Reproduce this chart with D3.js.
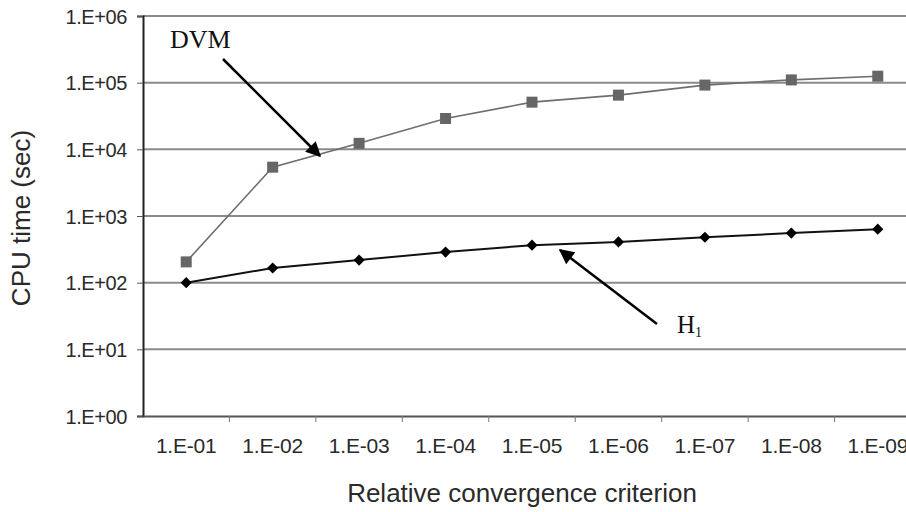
<!DOCTYPE html>
<html>
<head>
<meta charset="utf-8">
<script src="https://cdn.jsdelivr.net/npm/d3@7"></script>
<style>
  body { margin: 0; background: #fff; }
  svg { display: block; }
</style>
</head>
<body>
<svg></svg>
<script>
var width = 906;
var height = 512;

// data
var criteria = ["1.E-01", "1.E-02", "1.E-03", "1.E-04", "1.E-05", "1.E-06", "1.E-07", "1.E-08", "1.E-09"];
var dvmTimes = [205, 5400, 12300, 29000, 51000, 65000, 92000, 110000, 125000];
var h1Times = [100, 166, 218, 288, 365, 408, 480, 555, 635];
var yTicks = [1, 10, 100, 1000, 10000, 100000, 1000000];
var yTickLabels = ["1.E+00", "1.E+01", "1.E+02", "1.E+03", "1.E+04", "1.E+05", "1.E+06"];

const sans = "Liberation Sans, Arial, sans-serif";
const serif = "Liberation Serif, Times New Roman, serif";

const svg = d3.select('svg')
    .attr('width', width)
    .attr('height', height);

const x = d3.scaleBand()
    .domain(criteria)
    .range([143, 921]);

const y = d3.scaleLog()
    .domain([1, 1000000])
    .range([416, 16]);

// gridlines
svg.append("g")
    .selectAll("line")
    .data(yTicks.slice(1))
    .join("line")
    .attr("x1", 143)
    .attr("x2", width)
    .attr("y1", d => y(d))
    .attr("y2", d => y(d))
    .attr("stroke", "#8a8a8a")
    .attr("stroke-width", 2);

// y axis
const yAxis = svg.append("g")
    .attr("transform", "translate(143,0)")
    .call(d3.axisLeft(y)
        .tickValues(yTicks)
        .tickFormat((d, i) => yTickLabels[i])
        .tickSize(6)
        .tickPadding(10));
yAxis.select(".domain").attr("stroke", "#222").attr("stroke-width", 2);
yAxis.selectAll(".tick line").attr("stroke", "#555");
yAxis.selectAll("text")
    .attr("font-family", sans)
    .attr("font-size", 20)
    .attr("letter-spacing", -0.4)
    .attr("dy", "0.36em")
    .attr("fill", "#2a2a2a");

// x axis
const xAxis = svg.append("g")
    .attr("transform", "translate(0,416)")
    .call(d3.axisBottom(x).tickSize(0).tickPadding(22));
xAxis.select(".domain").attr("stroke", "#555").attr("stroke-width", 2);
xAxis.selectAll("text")
    .attr("font-family", sans)
    .attr("font-size", 21)
    .attr("letter-spacing", -0.2)
    .attr("fill", "#2a2a2a");
// tick marks between categories
xAxis.selectAll(".sep")
    .data(criteria.slice(1))
    .join("line")
    .attr("class", "sep")
    .attr("x1", d => x(d))
    .attr("x2", d => x(d))
    .attr("y1", 0)
    .attr("y2", 6)
    .attr("stroke", "#777");

// axis titles
svg.append("text")
    .attr("transform", "translate(30,218) rotate(-90)")
    .attr("text-anchor", "middle")
    .attr("font-family", sans)
    .attr("font-size", 26)
    .attr("fill", "#2a2a2a")
    .text("CPU time (sec)");

svg.append("text")
    .attr("x", 522)
    .attr("y", 502)
    .attr("text-anchor", "middle")
    .attr("font-family", sans)
    .attr("font-size", 26)
    .attr("fill", "#2a2a2a")
    .text("Relative convergence criterion");

const cx = d => x(d) + x.bandwidth() / 2;
const line = d3.line()
    .x(d => cx(d[0]))
    .y(d => y(d[1]));

// DVM series
const dvm = criteria.map((c, i) => [c, dvmTimes[i]]);
svg.append("path")
    .datum(dvm)
    .attr("d", line)
    .attr("fill", "none")
    .attr("stroke", "#6e6e6e")
    .attr("stroke-width", 1.6);
svg.append("g")
    .selectAll("rect")
    .data(dvm)
    .join("rect")
    .attr("x", d => cx(d[0]) - 5.5)
    .attr("y", d => y(d[1]) - 5.5)
    .attr("width", 11)
    .attr("height", 11)
    .attr("fill", "#666");

// H1 series
const h1 = criteria.map((c, i) => [c, h1Times[i]]);
svg.append("path")
    .datum(h1)
    .attr("d", line)
    .attr("fill", "none")
    .attr("stroke", "#111")
    .attr("stroke-width", 2);
svg.append("g")
    .selectAll("path")
    .data(h1)
    .join("path")
    .attr("transform", d => `translate(${cx(d[0])},${y(d[1])})`)
    .attr("d", d3.symbol(d3.symbolDiamond2, 80))
    .attr("fill", "#000");

// annotations
svg.append("defs").append("marker")
    .attr("id", "head")
    .attr("viewBox", "0 0 10 10")
    .attr("refX", 9)
    .attr("refY", 5)
    .attr("markerWidth", 8)
    .attr("markerHeight", 6)
    .attr("markerUnits", "strokeWidth")
    .attr("orient", "auto")
    .append("path")
    .attr("d", "M0,0L10,5L0,10z")
    .attr("fill", "#000");

svg.append("line")
    .attr("x1", 223).attr("y1", 59)
    .attr("x2", 320).attr("y2", 156)
    .attr("stroke", "#000")
    .attr("stroke-width", 2.5)
    .attr("marker-end", "url(#head)");
svg.append("text")
    .attr("x", 170)
    .attr("y", 48)
    .attr("font-family", serif)
    .attr("font-size", 26)
    .attr("fill", "#111")
    .text("DVM");

svg.append("line")
    .attr("x1", 657).attr("y1", 324)
    .attr("x2", 560).attr("y2", 250)
    .attr("stroke", "#000")
    .attr("stroke-width", 2.5)
    .attr("marker-end", "url(#head)");
const h1Label = svg.append("text")
    .attr("x", 677)
    .attr("y", 333)
    .attr("font-family", serif)
    .attr("font-size", 25)
    .attr("fill", "#111");
h1Label.append("tspan").text("H");
h1Label.append("tspan").attr("dy", 4).attr("font-size", 14).text("1");
</script>
</body>
</html>
